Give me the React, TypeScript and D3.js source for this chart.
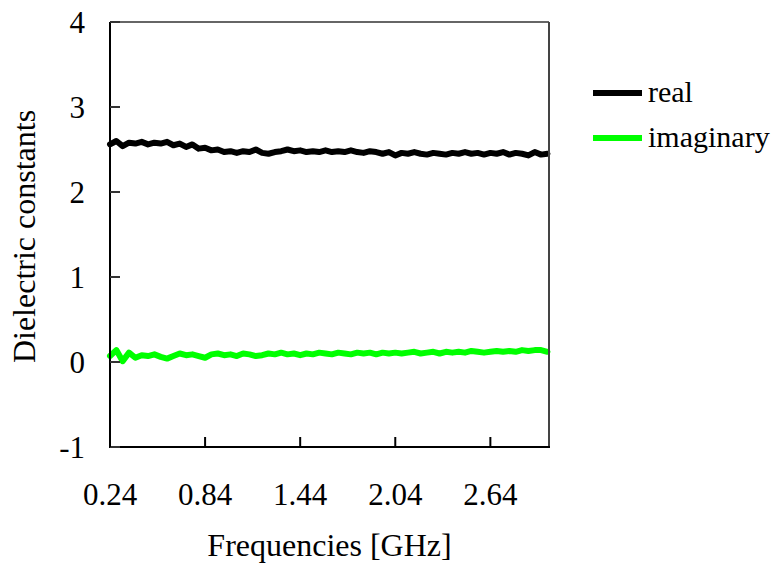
import React from 'react'
import * as d3 from 'd3'

// sweep frequencies (GHz)
const freqs = [
  0.24, 0.28, 0.32, 0.36, 0.4, 0.44, 0.48, 0.52, 0.56, 0.6, 0.64, 0.68, 0.72, 0.76, 0.8, 0.84, 0.88, 0.92, 0.96, 1.0,
  1.04, 1.08, 1.12, 1.16, 1.2, 1.24, 1.28, 1.32, 1.36, 1.4, 1.44, 1.48, 1.52, 1.56, 1.6, 1.64, 1.68, 1.72, 1.76, 1.8,
  1.84, 1.88, 1.92, 1.96, 2.0, 2.04, 2.08, 2.12, 2.16, 2.2, 2.24, 2.28, 2.32, 2.36, 2.4, 2.44, 2.48, 2.52, 2.56, 2.6,
  2.64, 2.68, 2.72, 2.76, 2.8, 2.84, 2.88, 2.92, 2.96, 3.0,
]

const realPart = [
  2.56, 2.6, 2.54, 2.58, 2.57, 2.59, 2.56, 2.58, 2.57, 2.59, 2.55, 2.57, 2.53, 2.56, 2.51, 2.52, 2.49, 2.5, 2.47, 2.48,
  2.46, 2.48, 2.47, 2.5, 2.46, 2.45, 2.47, 2.48, 2.5, 2.48, 2.49, 2.47, 2.48, 2.47, 2.49, 2.47, 2.48, 2.47, 2.49, 2.47,
  2.46, 2.48, 2.47, 2.45, 2.47, 2.43, 2.46, 2.45, 2.47, 2.45, 2.44, 2.46, 2.45, 2.44, 2.46, 2.45, 2.47, 2.45, 2.46, 2.44,
  2.46, 2.45, 2.47, 2.44, 2.46, 2.45, 2.43, 2.47, 2.44, 2.45,
]

const imagPart = [
  0.07, 0.14, 0.01, 0.11, 0.05, 0.08, 0.07, 0.09, 0.06, 0.04, 0.07, 0.1, 0.08, 0.09, 0.07, 0.05, 0.09, 0.1, 0.08, 0.09,
  0.07, 0.1, 0.09, 0.07, 0.08, 0.1, 0.09, 0.11, 0.09, 0.1, 0.08, 0.1, 0.09, 0.11, 0.1, 0.09, 0.11, 0.1, 0.09, 0.11,
  0.1, 0.11, 0.09, 0.11, 0.1, 0.11, 0.1, 0.11, 0.12, 0.1, 0.11, 0.12, 0.1, 0.12, 0.11, 0.12, 0.11, 0.13, 0.12, 0.11,
  0.12, 0.13, 0.12, 0.13, 0.12, 0.14, 0.13, 0.14, 0.14, 0.12,
]

const xTicks = [0.24, 0.84, 1.44, 2.04, 2.64]
const yTicks = [-1, 0, 1, 2, 3, 4]

const series = [
  { name: 'real', values: realPart, color: '#000000' },
  { name: 'imaginary', values: imagPart, color: '#00ff00' },
]

const FONT = 'Liberation Serif'

const left = 110
const right = 549
const top = 22
const bottom = 447

const x = d3.scaleLinear().domain([0.24, 3.01]).range([left, right])
const y = d3.scaleLinear().domain([-1, 4]).range([bottom, top])

const line = d3
  .line<number>()
  .x((_, i) => x(freqs[i]))
  .y((d) => y(d))

const App = () => {
  return (
    <svg width={779} height={569} style={{ position: 'absolute', left: 0, top: 0, background: '#fff' }}>
      {series.map((s) => (
        <path
          key={s.name}
          d={line(s.values) || ''}
          fill="none"
          stroke={s.color}
          strokeWidth={6}
          strokeLinejoin="round"
          strokeLinecap="round"
        />
      ))}

      {/* frame */}
      <line x1={left} x2={right} y1={top} y2={top} stroke="#666" strokeWidth={2} />
      <line x1={right} x2={right} y1={top} y2={bottom} stroke="#444" strokeWidth={2} />
      <line x1={left} x2={left} y1={top} y2={bottom + 1} stroke="#000" strokeWidth={2} />
      <line x1={left} x2={right + 1} y1={bottom} y2={bottom} stroke="#000" strokeWidth={2} />

      {/* y ticks, inside */}
      {yTicks.map((t) => (
        <g key={'y' + t}>
          <line x1={left} x2={left + 10} y1={y(t)} y2={y(t)} stroke="#333" strokeWidth={2} />
          <text x={left - 25} y={y(t) + 11} textAnchor="end" fontSize={31} fontFamily={FONT}>
            {t}
          </text>
        </g>
      ))}

      {/* x ticks, inside */}
      {xTicks.map((t) => (
        <g key={'x' + t}>
          <line x1={x(t)} x2={x(t)} y1={bottom} y2={bottom - 10} stroke="#000" strokeWidth={2} />
          <text x={x(t)} y={505} textAnchor="middle" fontSize={31} fontFamily={FONT}>
            {t.toFixed(2)}
          </text>
        </g>
      ))}

      <text x={(left + right) / 2} y={556} textAnchor="middle" fontSize={32} fontFamily={FONT}>
        Frequencies [GHz]
      </text>
      <text
        transform={`translate(35,${(top + bottom) / 2 + 2}) rotate(-90)`}
        textAnchor="middle"
        fontSize={32}
        fontFamily={FONT}
      >
        Dielectric constants
      </text>

      {/* legend */}
      {series.map((s, i) => {
        const ly = 93 + i * 45
        return (
          <g key={'l' + s.name}>
            <line x1={593} x2={642} y1={ly} y2={ly} stroke={s.color} strokeWidth={6} />
            <text x={648} y={ly + 9} fontSize={30} fontFamily={FONT}>
              {s.name}
            </text>
          </g>
        )
      })}
    </svg>
  )
}

export default App
